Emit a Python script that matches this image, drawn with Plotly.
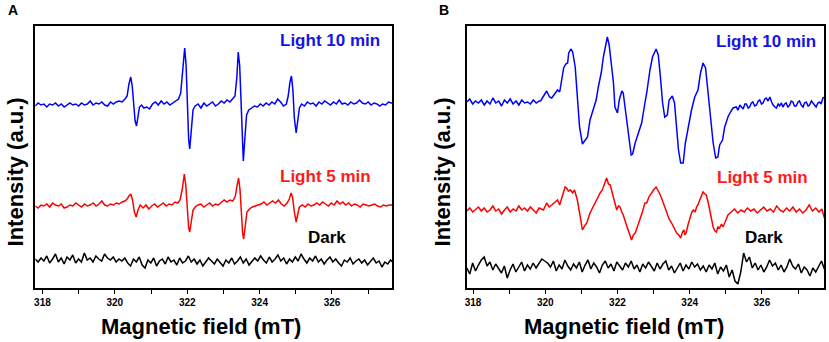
import numpy as np
import plotly.graph_objects as go

# ---------------- data (magnetic field in mT, intensity in arbitrary units) -------------
FIELD_TICKS = [318, 320, 322, 324, 326]
FIELD_MINOR = [319, 321, 323, 325, 327]

# Panel A ---------------------------------------------------------------
A_LIGHT10 = [
    (317.80, 184), (317.88, 187), (317.96, 185), (318.04, 186), (318.12, 183), (318.20, 186),
    (318.28, 185), (318.36, 187), (318.44, 184), (318.52, 186), (318.60, 183), (318.68, 185),
    (318.76, 187), (318.84, 185), (318.92, 186), (319.00, 184), (319.08, 187), (319.16, 185),
    (319.24, 186), (319.32, 189), (319.40, 185), (319.48, 187), (319.56, 186), (319.64, 188),
    (319.72, 185), (319.80, 184), (319.88, 188), (319.96, 186), (320.04, 188), (320.12, 189),
    (320.20, 188), (320.28, 191), (320.34, 194), (320.39, 206), (320.44, 213), (320.48, 204),
    (320.52, 182), (320.56, 169), (320.60, 164), (320.64, 172), (320.68, 183), (320.74, 185),
    (320.80, 182), (320.88, 183), (320.96, 181), (321.04, 186), (321.12, 188), (321.20, 185),
    (321.28, 189), (321.36, 186), (321.44, 188), (321.52, 185), (321.60, 187), (321.68, 189),
    (321.76, 191), (321.82, 197), (321.87, 218), (321.93, 242), (321.97, 224), (322.01, 178),
    (322.04, 150), (322.07, 141), (322.11, 162), (322.16, 180), (322.22, 184), (322.30, 186),
    (322.38, 182), (322.46, 187), (322.54, 184), (322.62, 186), (322.70, 188), (322.78, 184),
    (322.86, 186), (322.94, 189), (323.02, 187), (323.10, 190), (323.18, 188), (323.25, 191),
    (323.32, 194), (323.37, 212), (323.41, 238), (323.45, 224), (323.49, 178), (323.52, 142),
    (323.55, 129), (323.59, 150), (323.64, 175), (323.70, 180), (323.78, 182), (323.86, 184),
    (323.94, 183), (324.02, 186), (324.10, 184), (324.18, 187), (324.26, 185), (324.34, 188),
    (324.42, 186), (324.50, 191), (324.58, 188), (324.66, 184), (324.74, 186), (324.79, 194),
    (324.84, 208), (324.88, 214), (324.92, 200), (324.96, 172), (325.01, 157), (325.05, 168),
    (325.10, 182), (325.16, 186), (325.24, 184), (325.32, 188), (325.40, 186), (325.48, 187),
    (325.56, 184), (325.64, 188), (325.72, 186), (325.80, 189), (325.88, 187), (325.96, 185),
    (326.04, 188), (326.12, 186), (326.20, 190), (326.28, 186), (326.36, 187), (326.44, 185),
    (326.52, 188), (326.60, 186), (326.68, 187), (326.76, 190), (326.84, 187), (326.92, 186),
    (327.00, 188), (327.08, 185), (327.16, 187), (327.24, 186), (327.32, 184), (327.40, 186),
    (327.48, 185), (327.56, 188), (327.64, 187), (327.70, 187),
]

A_LIGHT5 = [
    (317.80, 84), (317.88, 82), (317.96, 85), (318.04, 84), (318.12, 86), (318.20, 83),
    (318.28, 87), (318.36, 85), (318.44, 84), (318.52, 86), (318.60, 82), (318.68, 83),
    (318.76, 85), (318.84, 84), (318.92, 87), (319.00, 85), (319.08, 83), (319.16, 86),
    (319.24, 84), (319.32, 85), (319.40, 87), (319.48, 84), (319.56, 86), (319.64, 89),
    (319.72, 85), (319.80, 84), (319.88, 86), (319.96, 85), (320.04, 87), (320.12, 86),
    (320.20, 88), (320.28, 89), (320.34, 91), (320.39, 94), (320.44, 96), (320.49, 90),
    (320.54, 78), (320.59, 73), (320.64, 80), (320.70, 85), (320.78, 82), (320.86, 85),
    (320.94, 81), (321.02, 84), (321.10, 86), (321.18, 83), (321.26, 85), (321.34, 87),
    (321.42, 84), (321.50, 86), (321.58, 85), (321.66, 88), (321.74, 87), (321.80, 90),
    (321.86, 100), (321.92, 116), (321.96, 105), (322.00, 80), (322.04, 62), (322.07, 58),
    (322.11, 68), (322.16, 80), (322.22, 83), (322.30, 85), (322.38, 86), (322.46, 83),
    (322.54, 85), (322.62, 87), (322.70, 84), (322.78, 86), (322.86, 85), (322.94, 88),
    (323.02, 90), (323.10, 88), (323.18, 90), (323.26, 89), (323.33, 94), (323.38, 105),
    (323.42, 112), (323.46, 100), (323.50, 72), (323.53, 57), (323.56, 51), (323.60, 62),
    (323.65, 78), (323.72, 81), (323.80, 83), (323.88, 84), (323.96, 85), (324.04, 86),
    (324.12, 88), (324.20, 85), (324.28, 87), (324.36, 89), (324.44, 87), (324.52, 90),
    (324.60, 86), (324.68, 84), (324.76, 87), (324.82, 91), (324.87, 97), (324.91, 93),
    (324.96, 78), (325.01, 68), (325.05, 75), (325.10, 83), (325.18, 85), (325.26, 83),
    (325.34, 86), (325.42, 84), (325.50, 85), (325.58, 87), (325.66, 85), (325.74, 88),
    (325.82, 86), (325.90, 84), (325.98, 87), (326.06, 85), (326.14, 89), (326.22, 86),
    (326.30, 88), (326.38, 85), (326.46, 87), (326.54, 84), (326.62, 86), (326.70, 85),
    (326.78, 83), (326.86, 86), (326.94, 85), (327.02, 84), (327.10, 85), (327.18, 86),
    (327.26, 84), (327.34, 83), (327.42, 85), (327.50, 84), (327.58, 85), (327.66, 85),
    (327.70, 86),
]

# dark spectrum A, sampled on a uniform field sweep 317.80 -> 327.70 mT
A_DARK = [31, 28, 32, 29, 34, 27, 31, 36, 28, 32, 26, 33, 30, 35, 27, 31, 28, 37, 30, 32,
          28, 34, 31, 29, 36, 32, 30, 33, 28, 31, 29, 32, 27, 24, 31, 28, 33, 25, 22, 30,
          27, 32, 24, 29, 31, 26, 33, 28, 30, 25, 32, 27, 29, 34, 28, 31, 26, 30, 24, 28,
          32, 29, 26, 31, 28, 24, 30, 27, 32, 26, 29, 33, 27, 31, 25, 28, 32, 29, 34, 30,
          27, 33, 28, 31, 35, 29, 32, 26, 31, 28, 33, 29, 36, 31, 27, 32, 29, 34, 28, 31,
          26, 30, 33, 28, 31, 27, 24, 30, 28, 32, 26, 29, 31, 27, 30, 25, 28, 32, 27, 29,
          23, 28, 26, 30, 27]
A_SWEEP = (317.80, 327.70)

# Panel B ---------------------------------------------------------------
B_LIGHT10 = [
    (317.83, 188), (317.91, 191), (317.99, 186), (318.07, 189), (318.15, 187), (318.23, 190),
    (318.31, 185), (318.39, 189), (318.47, 186), (318.55, 192), (318.63, 187), (318.71, 189),
    (318.79, 184), (318.87, 190), (318.95, 187), (319.03, 191), (319.11, 186), (319.19, 189),
    (319.27, 185), (319.35, 190), (319.43, 187), (319.51, 188), (319.59, 186), (319.67, 190),
    (319.75, 187), (319.83, 189), (319.87, 189), (319.95, 194), (320.04, 199), (320.12, 193),
    (320.18, 192), (320.28, 197), (320.34, 200), (320.40, 198), (320.46, 213), (320.51, 222),
    (320.57, 226), (320.62, 227), (320.65, 237), (320.71, 241), (320.76, 238), (320.83, 223),
    (320.89, 193), (320.95, 163), (321.03, 146), (321.10, 150), (321.17, 153), (321.24, 170),
    (321.33, 180), (321.41, 190), (321.47, 203), (321.55, 217), (321.61, 233), (321.67, 243),
    (321.72, 253), (321.77, 245), (321.82, 227), (321.89, 207), (321.93, 183), (322.00, 177),
    (322.05, 190), (322.12, 199), (322.16, 197), (322.23, 177), (322.30, 153), (322.38, 135),
    (322.42, 136), (322.49, 147), (322.58, 157), (322.67, 167), (322.76, 187), (322.81, 197),
    (322.90, 220), (322.97, 233), (323.07, 241), (323.13, 235), (323.19, 213), (323.25, 187),
    (323.31, 173), (323.38, 175), (323.43, 190), (323.52, 194), (323.58, 187), (323.64, 163),
    (323.69, 140), (323.75, 127), (323.82, 127), (323.88, 147), (323.96, 163), (324.05, 180),
    (324.14, 193), (324.23, 200), (324.30, 217), (324.37, 227), (324.44, 222), (324.51, 197),
    (324.57, 170), (324.65, 147), (324.72, 132), (324.78, 133), (324.83, 145), (324.91, 150),
    (324.97, 163), (325.06, 173), (325.13, 178), (325.20, 182), (325.29, 183), (325.34, 180),
    (325.39, 185), (325.44, 183), (325.48, 181), (325.53, 186), (325.57, 186), (325.62, 182),
    (325.66, 183), (325.71, 187), (325.75, 188), (325.80, 184), (325.85, 185), (325.90, 189),
    (325.94, 190), (325.99, 186), (326.03, 187), (326.08, 191), (326.12, 192), (326.17, 189),
    (326.22, 193), (326.27, 188), (326.31, 185), (326.36, 183), (326.40, 182), (326.45, 186),
    (326.49, 184), (326.54, 187), (326.58, 183), (326.63, 186), (326.67, 187), (326.72, 183),
    (326.77, 185), (326.81, 189), (326.86, 188), (326.90, 184), (326.95, 184), (327.00, 188),
    (327.04, 189), (327.09, 185), (327.14, 183), (327.18, 187), (327.23, 188), (327.28, 184),
    (327.32, 185), (327.37, 189), (327.41, 187), (327.46, 184), (327.50, 183), (327.55, 187),
    (327.60, 188), (327.64, 186), (327.69, 192), (327.73, 193),
]

B_LIGHT5 = [
    (317.83, 79), (317.91, 82), (317.99, 78), (318.07, 81), (318.15, 83), (318.23, 79),
    (318.31, 82), (318.39, 78), (318.47, 80), (318.55, 84), (318.63, 79), (318.71, 81),
    (318.79, 76), (318.87, 80), (318.95, 83), (319.03, 78), (319.11, 81), (319.19, 79),
    (319.27, 84), (319.35, 80), (319.43, 82), (319.51, 79), (319.59, 83), (319.67, 80),
    (319.75, 77), (319.83, 82), (319.95, 80), (320.04, 87), (320.11, 83), (320.18, 85),
    (320.26, 88), (320.34, 90), (320.40, 85), (320.46, 92), (320.51, 97), (320.55, 103),
    (320.59, 102), (320.64, 99), (320.70, 100), (320.76, 97), (320.81, 100), (320.89, 90),
    (320.97, 73), (321.03, 60), (321.09, 64), (321.15, 67), (321.24, 77), (321.31, 82),
    (321.38, 87), (321.45, 93), (321.52, 97), (321.58, 100), (321.61, 103), (321.66, 108),
    (321.70, 112), (321.75, 106), (321.80, 105), (321.85, 98), (321.89, 93), (321.94, 86),
    (321.98, 80), (322.03, 84), (322.07, 83), (322.12, 78), (322.16, 75), (322.23, 67),
    (322.30, 60), (322.35, 54), (322.39, 50), (322.44, 55), (322.49, 57), (322.55, 63),
    (322.62, 70), (322.69, 78), (322.76, 87), (322.81, 87), (322.87, 93), (322.94, 97),
    (323.00, 100), (323.07, 103), (323.12, 100), (323.16, 97), (323.22, 92), (323.27, 87),
    (323.32, 82), (323.36, 77), (323.43, 71), (323.50, 67), (323.57, 62), (323.64, 57),
    (323.70, 55), (323.75, 52), (323.80, 58), (323.84, 60), (323.87, 55), (323.90, 57),
    (323.96, 66), (324.01, 73), (324.06, 78), (324.10, 80), (324.15, 78), (324.19, 83),
    (324.24, 86), (324.28, 90), (324.33, 94), (324.37, 98), (324.42, 96), (324.46, 95),
    (324.51, 88), (324.56, 80), (324.60, 71), (324.65, 63), (324.70, 59), (324.74, 58),
    (324.78, 63), (324.83, 62), (324.88, 66), (324.92, 63), (324.97, 67), (325.02, 72),
    (325.06, 75), (325.15, 78), (325.24, 81), (325.33, 77), (325.42, 80), (325.51, 78),
    (325.60, 82), (325.69, 79), (325.78, 81), (325.87, 77), (325.96, 80), (326.05, 83),
    (326.14, 79), (326.23, 81), (326.32, 78), (326.41, 84), (326.50, 80), (326.59, 78),
    (326.68, 82), (326.77, 79), (326.86, 83), (326.95, 78), (327.04, 81), (327.13, 77),
    (327.22, 80), (327.31, 85), (327.40, 79), (327.49, 82), (327.58, 78), (327.66, 81),
    (327.73, 72),
]

# dark spectrum B, sampled on a uniform field sweep 317.83 -> 327.73 mT
B_DARK = [22, 16, 27, 19, 25, 30, 33, 24, 28, 20, 26, 21, 17, 24, 12, 20, 26, 18, 23, 28,
          19, 25, 21, 27, 22, 26, 31, 29, 27, 23, 29, 19, 25, 21, 30, 24, 20, 26, 22, 28,
          18, 25, 30, 21, 27, 23, 17, 25, 29, 22, 26, 19, 28, 24, 20, 27, 23, 29, 21, 25,
          18, 26, 22, 28, 24, 19, 27, 21, 26, 29, 20, 24, 17, 22, 27, 19, 25, 21, 28, 23,
          26, 20, 24, 18, 25, 21, 27, 16, 23, 19, 25, 13, 20, 9, 6, 18, 37, 28, 33, 22,
          27, 20, 25, 18, 23, 30, 24, 27, 20, 25, 18, 23, 31, 24, 21, 26, 17, 23, 20, 14,
          22, 18, 24, 29, 21]
B_SWEEP = (317.83, 327.73)

SERIES_COLORS = {"Light 10 min": "#0000ff", "Light 5 min": "#ff0000", "Dark": "#000000"}

# ---------------- figure -----------------------------------------------------------------
W, H = 829, 342


def px(x):
    return x / W


def py(y):
    return 1 - y / H


fig = go.Figure()


def add_pairs(pairs, color, xa, ya):
    xs = [p[0] for p in pairs]
    ys = [p[1] for p in pairs]
    fig.add_trace(go.Scatter(x=xs, y=ys, mode="lines", xaxis=xa, yaxis=ya,
                             line=dict(color=color, width=1.5), showlegend=False,
                             hoverinfo="skip"))


def add_sweep(values, sweep, color, xa, ya):
    xs = np.linspace(sweep[0], sweep[1], len(values))
    fig.add_trace(go.Scatter(x=xs, y=values, mode="lines", xaxis=xa, yaxis=ya,
                             line=dict(color=color, width=1.5), showlegend=False,
                             hoverinfo="skip"))


add_pairs(A_LIGHT10, SERIES_COLORS["Light 10 min"], "x", "y")
add_pairs(A_LIGHT5, SERIES_COLORS["Light 5 min"], "x", "y")
add_sweep(A_DARK, A_SWEEP, SERIES_COLORS["Dark"], "x", "y")
add_pairs(B_LIGHT10, SERIES_COLORS["Light 10 min"], "x2", "y2")
add_pairs(B_LIGHT5, SERIES_COLORS["Light 5 min"], "x2", "y2")
add_sweep(B_DARK, B_SWEEP, SERIES_COLORS["Dark"], "x2", "y2")

FONT = "Arial, Liberation Sans, sans-serif"

xcommon = dict(
    showline=True, mirror=True, linecolor="black", linewidth=1.5,
    ticks="outside", ticklen=4, tickwidth=1, tickcolor="black",
    tickvals=FIELD_TICKS, ticktext=[str(t) for t in FIELD_TICKS],
    tickfont=dict(family=FONT, size=10, color="black", weight="bold"),
    minor=dict(tickvals=FIELD_MINOR, ticks="outside", ticklen=4, tickwidth=1, tickcolor="black"),
    showgrid=False, zeroline=False, fixedrange=True,
)
ycommon = dict(
    showline=True, mirror=True, linecolor="black", linewidth=1.5,
    showticklabels=False, ticks="", showgrid=False, zeroline=False,
    range=[2, 264], domain=[py(288), py(26)], fixedrange=True,
)

fig.update_layout(
    width=W, height=H,
    margin=dict(l=0, r=0, t=0, b=0),
    paper_bgcolor="white", plot_bgcolor="white",
    xaxis=dict(domain=[px(33.3), px(391)], range=[317.80, 327.66], anchor="y", **xcommon),
    yaxis=dict(anchor="x", **ycommon),
    xaxis2=dict(domain=[px(466), px(824)], range=[317.83, 327.72], anchor="y2", **xcommon),
    yaxis2=dict(anchor="x2", **ycommon),
)

annots = []


def label(text, x, y, size, color="black", angle=0):
    annots.append(dict(text=text, x=px(x), y=py(y), xref="paper", yref="paper",
                       xanchor="center", yanchor="middle", showarrow=False, textangle=angle,
                       font=dict(family=FONT, size=size, color=color, weight="bold")))


# panel letters
label("A", 11.5, 10.5, 14)
label("B", 443.5, 9.5, 14)
# axis titles
label("Intensity (a.u.)", 13.5, 172, 22, angle=-90)
label("Intensity (a.u.)", 441.5, 172, 22, angle=-90)
label("Magnetic field (mT)", 199, 326, 22)
label("Magnetic field (mT)", 624, 326, 22)
# series labels
label("Light 10 min", 328.5, 41, 17, "#1414e6")
label("Light 5 min", 324.5, 176.5, 17, "#ff1a1a")
label("Dark", 326, 237.5, 17)
label("Light 10 min", 766, 41.5, 17, "#1414e6")
label("Light 5 min", 762.5, 177, 17, "#ff1a1a")
label("Dark", 764, 237.5, 17)

fig.update_layout(annotations=annots)

# the page's default body margin would shift the fixed-size figure; remove it
fig.write_html("out.html",
               config={"displayModeBar": False},
               post_script="document.body.style.margin='0';document.body.style.overflow='hidden';")
